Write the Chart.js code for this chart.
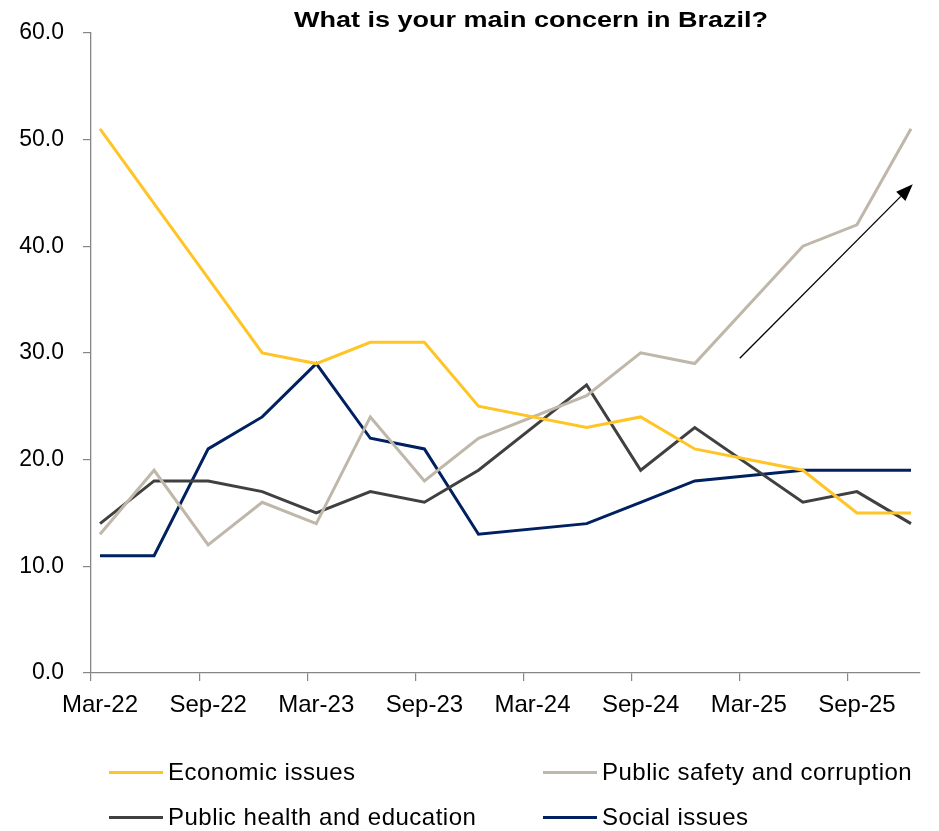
<!DOCTYPE html>
<html>
<head>
<meta charset="utf-8">
<script src="https://cdn.jsdelivr.net/npm/chart.js@4.4.1/dist/chart.umd.min.js"></script>
<style>
  body { margin: 0; background: #fff; }
  #wrap { position: relative; width: 939px; height: 831px; }
  #myChart { position: absolute; left: 0; top: 0; }
  .lg-item { position: absolute; height: 30px; display: flex; align-items: center;
             font-family: 'Liberation Sans', Arial, sans-serif; font-size: 24px; letter-spacing: 0.5px;
             color: #000; white-space: nowrap; }
  .lg-line { display: inline-block; width: 54px; height: 3px; margin-right: 5px; }
</style>
</head>
<body>
<div id="wrap">
  <canvas id="myChart" width="939" height="831"></canvas>
  <div id="legend"></div>
</div>
<script>
// survey rounds (quarterly), null = no survey that round
const quarters = ['Mar-22','Jun-22','Sep-22','Dec-22','Mar-23','Jun-23','Sep-23','Dec-23',
                  'Mar-24','Jun-24','Sep-24','Dec-24','Mar-25','Jun-25','Sep-25','Dec-25'];
const economic = [51, 44, 37, 30, 29, 31, 31, 25, null, 23, 24, 21, null, 19, 15, 15];
const safety   = [13, 19, 12, 16, 14, 24, 18, 22, null, 26, 30, 29, null, 40, 42, 51];
const health   = [14, 18, 18, 17, 15, 17, 16, 19, null, 27, 19, 23, null, 16, 17, 14];
const social   = [11, 11, 21, 24, 29, 22, 21, 13, null, 14, 16, 18, null, 19, 19, 19];

const seriesNames = ['Economic issues', 'Public safety and corruption', 'Public health and education', 'Social issues'];
const seriesColors = ['#FFC425', '#BFB7AA', '#404040', '#002060'];

// monthly axis Mar-22 .. Dec-25, label every 6 months
const monNames = ['Jan','Feb','Mar','Apr','May','Jun','Jul','Aug','Sep','Oct','Nov','Dec'];
let months = [];
for (let i = 0; i < 46; i++) {
    let m = (2 + i) % 12;
    let y = 22 + Math.floor((2 + i) / 12);
    months.push(monNames[m] + '-' + y);
}

// arrow annotation, in axis units (month index, value)
const arrowFrom = [35.5, 29.5];
const arrowTo = [45.1, 45.8];

Chart.defaults.font.family = "'Liberation Sans', Arial, sans-serif";
Chart.defaults.color = '#000';

function toPoints(vals) {
    return quarters.map(function(q, i) { return { x: q, y: vals[i] }; });
}

let allSeries = [economic, safety, health, social];
let datasets = allSeries.map(function(vals, i) {
    return {
        label: seriesNames[i],
        data: toPoints(vals),
        borderColor: seriesColors[i],
        backgroundColor: seriesColors[i],
        borderWidth: 3,
        pointRadius: 0,
        tension: 0,
        spanGaps: true
    };
});

const extras = {
    id: 'extras',
    afterDatasetsDraw(chart) {
        const ctx = chart.ctx;
        const xs = chart.scales.x, ys = chart.scales.y;
        // arrow
        let x1 = xs.getPixelForValue(arrowFrom[0]), y1 = ys.getPixelForValue(arrowFrom[1]);
        let x2 = xs.getPixelForValue(arrowTo[0]), y2 = ys.getPixelForValue(arrowTo[1]);
        let ang = Math.atan2(y2 - y1, x2 - x1);
        let headLen = 17, headW = 6.5;
        let bx = x2 - headLen * Math.cos(ang), by = y2 - headLen * Math.sin(ang);
        ctx.save();
        ctx.strokeStyle = '#000';
        ctx.fillStyle = '#000';
        ctx.lineWidth = 1.3;
        ctx.beginPath();
        ctx.moveTo(x1, y1);
        ctx.lineTo(bx, by);
        ctx.stroke();
        ctx.beginPath();
        ctx.moveTo(x2, y2);
        ctx.lineTo(bx + headW * Math.sin(ang), by - headW * Math.cos(ang));
        ctx.lineTo(bx - headW * Math.sin(ang), by + headW * Math.cos(ang));
        ctx.closePath();
        ctx.fill();
        ctx.restore();
    },
    afterDraw(chart) {
        // title, a bit stretched like the original
        const ctx = chart.ctx;
        const text = 'What is your main concern in Brazil?';
        ctx.save();
        ctx.font = "bold 22px 'Liberation Sans', Arial, sans-serif";
        ctx.fillStyle = '#000';
        ctx.textAlign = 'center';
        ctx.textBaseline = 'alphabetic';
        let w = ctx.measureText(text).width;
        ctx.translate(531, 27);
        ctx.scale(474 / w, 1);
        ctx.fillText(text, 0, 0);
        ctx.restore();
    }
};

let myChart = new Chart(document.getElementById('myChart'), {
    type: 'line',
    data: { labels: months, datasets: datasets },
    options: {
        responsive: false,
        animation: false,
        layout: { padding: { top: 31, right: 19, left: 0, bottom: 0 } },
        plugins: {
            legend: { display: false },
            title: { display: false },
            tooltip: { enabled: false }
        },
        scales: {
            x: {
                type: 'category',
                offset: true,
                afterFit: function(scale) { scale.height = 158; },
                grid: {
                    offset: true,
                    drawOnChartArea: false,
                    tickLength: 8,
                    lineWidth: 1.2,
                    color: function(c) { return c.index % 6 === 0 ? '#868686' : 'rgba(0,0,0,0)'; }
                },
                border: { color: '#868686', width: 1.3 },
                ticks: {
                    autoSkip: false,
                    maxRotation: 0,
                    padding: 10,
                    font: { size: 24 },
                    callback: function(v, i) { return i % 6 === 0 ? this.getLabelForValue(v) : ''; }
                }
            },
            y: {
                min: 0,
                max: 60,
                afterFit: function(scale) { scale.width = 91; },
                grid: {
                    drawOnChartArea: false,
                    tickLength: 8,
                    lineWidth: 1.2,
                    color: '#868686'
                },
                border: { color: '#868686', width: 1.3 },
                ticks: {
                    stepSize: 10,
                    padding: 19,
                    font: { size: 23 },
                    callback: function(v) { return v.toFixed(1); }
                }
            }
        }
    },
    plugins: [extras]
});

// legend in two columns
const legendPos = [[109, 772], [543, 772], [109, 817], [543, 817]];
let lg = document.getElementById('legend');
myChart.data.datasets.forEach(function(ds, i) {
    let item = document.createElement('div');
    item.className = 'lg-item';
    item.style.left = legendPos[i][0] + 'px';
    item.style.top = (legendPos[i][1] - 15) + 'px';
    let line = document.createElement('span');
    line.className = 'lg-line';
    line.style.background = ds.borderColor;
    let txt = document.createElement('span');
    txt.textContent = ds.label;
    item.appendChild(line);
    item.appendChild(txt);
    lg.appendChild(item);
});
</script>
</body>
</html>
